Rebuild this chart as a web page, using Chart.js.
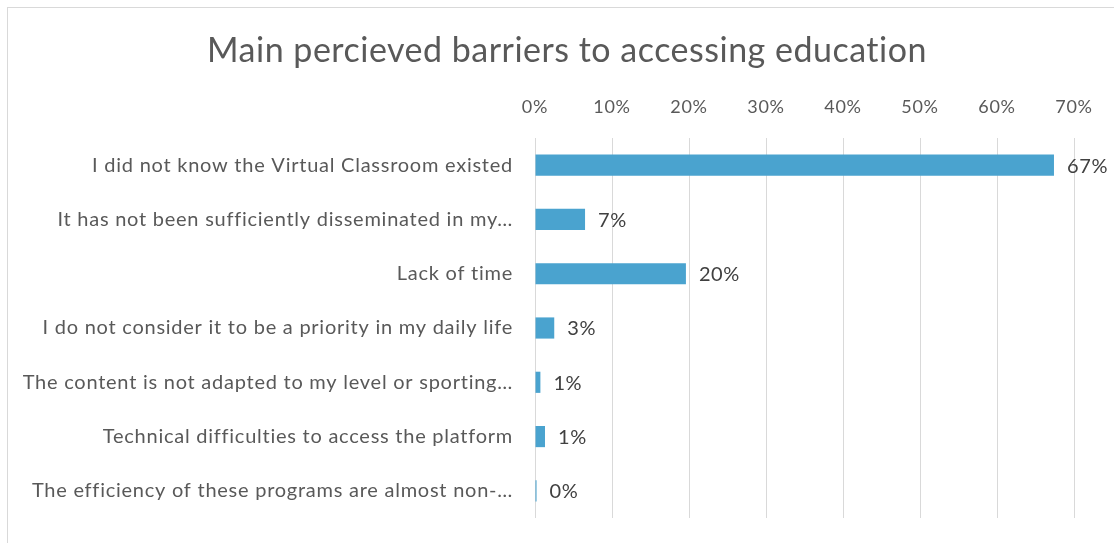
<!DOCTYPE html>
<html><head><meta charset="utf-8">
<script src="https://cdn.jsdelivr.net/npm/chart.js@4.4.0/dist/chart.umd.min.js"></script>
<style>
html,body{margin:0;padding:0;background:#fff;overflow:hidden;width:1114px;height:543px;}
#frame{position:absolute;left:7px;top:7px;width:1118px;height:560px;border:1px solid #d9d9d9;background:#fff;}
canvas{display:block;}
</style></head><body>
<div id="frame"><canvas id="c" width="1118" height="560"></canvas></div>
<script>
const titleText = 'Main percieved barriers to accessing education';
const categories = [
  'I did not know the Virtual Classroom existed',
  'It has not been sufficiently disseminated in my…',
  'Lack of time',
  'I do not consider it to be a priority in my daily life',
  'The content is not adapted to my level or sporting…',
  'Technical difficulties to access the platform',
  'The efficiency of these programs are almost non-…'
];
const values = [67.4, 6.5, 19.6, 2.5, 0.7, 1.3, 0.2];
const valueLabels = ['67%', '7%', '20%', '3%', '1%', '1%', '0%'];
const tickValues = [0, 10, 20, 30, 40, 50, 60, 70];

const FONT = 'Lato, "Open Sans", sans-serif';

const spacingPlugin = {
  id: 'spacing',
  beforeDraw(chart) { chart.ctx.letterSpacing = '0.75px'; }
};

const titlePlugin = {
  id: 'customTitle',
  afterDraw(chart) {
    const ctx = chart.ctx;
    ctx.save();
    ctx.letterSpacing = '0.5px';
    ctx.font = '34px ' + FONT;
    ctx.fillStyle = '#595959';
    ctx.textAlign = 'center';
    ctx.textBaseline = 'alphabetic';
    ctx.fillText(titleText, chart.width / 2, 54);
    ctx.restore();
  }
};

const valueLabelPlugin = {
  id: 'valueLabels',
  afterDatasetsDraw(chart) {
    const ctx = chart.ctx;
    const meta = chart.getDatasetMeta(0);
    ctx.save();
    ctx.letterSpacing = '0.6px';
    ctx.font = '20px ' + FONT;
    ctx.fillStyle = '#404040';
    ctx.textAlign = 'left';
    ctx.textBaseline = 'middle';
    meta.data.forEach((bar, i) => {
      ctx.fillText(valueLabels[i], bar.x + 13, bar.y + 1);
    });
    ctx.restore();
  }
};

new Chart(document.getElementById('c'), {
  type: 'bar',
  data: {
    labels: categories,
    datasets: [{
      data: values,
      backgroundColor: '#4aa3cf',
      borderWidth: 0,
      barPercentage: 0.39,
      categoryPercentage: 1
    }]
  },
  options: {
    indexAxis: 'y',
    responsive: false,
    animation: false,
    layout: { padding: { top: 0, right: 52, bottom: 50, left: 0 } },
    plugins: { legend: { display: false }, title: { display: false }, tooltip: { enabled: false } },
    scales: {
      x: {
        position: 'top',
        min: 0, max: 70,
        afterFit(scale) { scale.height = 130; },
        afterBuildTicks(scale) { scale.ticks = tickValues.map(v => ({ value: v })); },
        ticks: {
          font: { family: FONT, size: 18 },
          color: '#595959',
          padding: 20,
          callback: v => v + '%'
        },
        grid: { color: '#d9d9d9', lineWidth: 1, drawTicks: false },
        border: { display: false }
      },
      y: {
        afterFit(scale) { scale.width = 527; },
        ticks: {
          font: { family: FONT, size: 20 },
          color: '#595959',
          padding: 22
        },
        grid: { display: false, drawTicks: false },
        border: { display: false }
      }
    }
  },
  plugins: [spacingPlugin, titlePlugin, valueLabelPlugin]
});
</script>
</body></html>
